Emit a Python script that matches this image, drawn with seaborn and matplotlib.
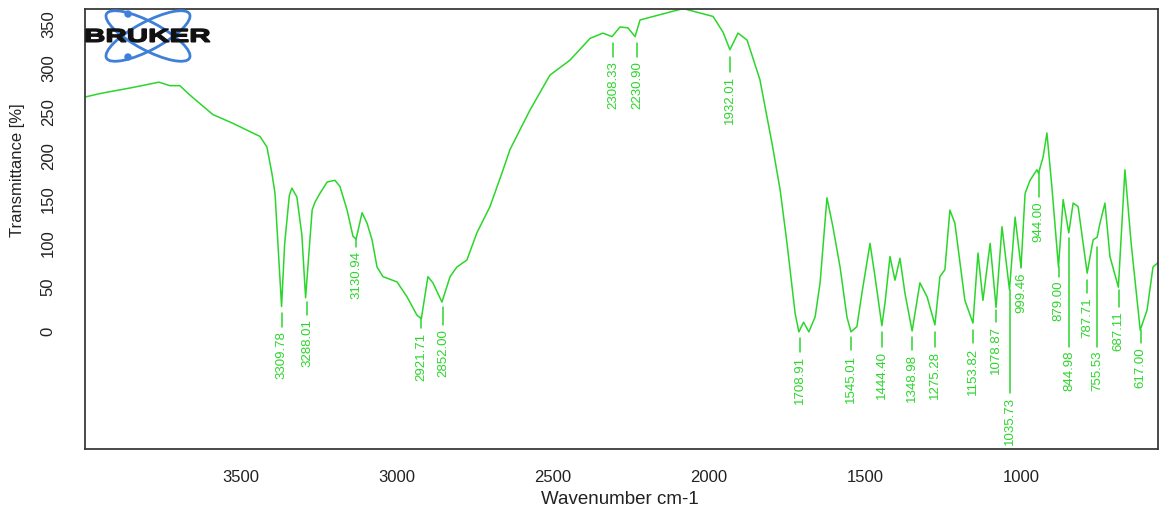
import numpy as np
import pandas as pd
import matplotlib
matplotlib.use("Agg")
import matplotlib.pyplot as plt
import seaborn as sns
from matplotlib.patches import Ellipse, PathPatch, Circle
from matplotlib.textpath import TextPath
from matplotlib.font_manager import FontProperties
from matplotlib.transforms import Affine2D, IdentityTransform

# ---------------- data ----------------
wavenumber = [4000, 3952, 3846, 3763, 3728, 3696, 3663, 3590, 3526, 3439, 3417, 3401, 3391,
              3380, 3370, 3360, 3345, 3337, 3321, 3305, 3293, 3282, 3272, 3263, 3247, 3224,
              3199, 3183, 3160, 3141, 3131, 3112, 3096, 3080, 3064, 3045, 3000, 2968, 2936,
              2922, 2901, 2885, 2856, 2830, 2808, 2776, 2744, 2702, 2660, 2638, 2574, 2510,
              2446, 2381, 2340, 2311, 2285, 2260, 2237, 2221, 2189, 2135, 2083, 2029, 1987,
              1955, 1933, 1907, 1878, 1837, 1798, 1772, 1750, 1724, 1712, 1697, 1680, 1660,
              1644, 1622, 1603, 1580, 1558, 1545, 1526, 1510, 1484, 1468, 1446, 1436, 1420,
              1404, 1388, 1372, 1349, 1340, 1324, 1301, 1276, 1260, 1244, 1228, 1212, 1180,
              1154, 1138, 1122, 1099, 1080, 1061, 1037, 1019, 1000, 987, 971, 949, 944, 929,
              917, 901, 880, 865, 847, 833, 817, 788, 769, 756, 747, 731, 715, 688, 667, 647,
              618, 596, 577, 561]
transmittance = [267, 271, 278, 284, 280, 280, 269, 247, 237, 222, 210, 180, 157,
                 90, 28, 100, 155, 163, 153, 110, 38, 90, 138, 147, 157, 170,
                 172, 165, 138, 108, 105, 135, 123, 104, 73, 62, 56, 39, 18,
                 14, 62, 55, 33, 62, 73, 81, 112, 142, 184, 207, 252, 292,
                 309, 334, 340, 336, 347, 346, 336, 355, 358, 363, 368, 363, 359,
                 341, 321, 340, 332, 287, 214, 161, 100, 20, -1, 10, -1, 16,
                 55, 152, 119, 73, 16, -1, 5, 43, 100, 62, 6, 32, 85,
                 58, 83, 43, 0, 20, 55, 39, 7, 62, 70, 138, 123, 35,
                 9, 89, 35, 100, 27, 119, 47, 130, 73, 157, 172, 184, 180, 199,
                 226, 164, 73, 150, 112, 146, 142, 66, 104, 107, 123, 146, 85, 50, 184, 100,
                 1, 24, 73, 78]

peak_labels = ["3309.78", "3288.01", "3130.94", "2921.71", "2852.00", "2308.33", "2230.90",
               "1932.01", "1708.91", "1545.01", "1444.40", "1348.98", "1275.28", "1153.82",
               "1078.87", "1035.73", "999.46", "944.00", "879.00", "844.98", "787.71",
               "755.53", "687.11", "617.00"]
peak_wn = [3370, 3288.01, 3130.94, 2921.71, 2852.00, 2308.33, 2230.90,
           1932.01, 1708.91, 1545.01, 1444.40, 1348.98, 1275.28, 1153.82,
           1078.87, 1035.73, 999.46, 944.00, 879.00, 844.98, 787.71,
           755.53, 687.11, 617.00]
# leader line extent (top, bottom) in transmittance units
leader_top = [20, 33, 106, 16, 27, 329, 329, 313, -8, -7, -1, -7, -1, 1,
              24, 47, 81, 181, 73, 106, 58, 96, 47, 1]
leader_bottom = [5, 18, 96, 3, 7, 313, 313, 296, -24, -22, -18, -22, -18, -14,
                 10, -71, 72, 153, 62, -18, 43, -18, 27, -14]

x_ticks = [3500, 3000, 2500, 2000, 1500, 1000]
y_ticks = [0, 50, 100, 150, 200, 250, 300, 350]

# ---------------- styling ----------------
sns.set_style("white")
plt.rcParams['font.family'] = ['Liberation Sans', 'DejaVu Sans']

GREEN = "#2bd62b"
FRAME = "#3a3a3a"

W, H = 1163, 512
fig = plt.figure(figsize=(W / 100, H / 100), dpi=100)
ax = fig.add_axes([85 / W, 1 - 449 / H, (1158 - 85) / W, (449 - 9) / H])

df = pd.DataFrame({"wavenumber": wavenumber, "transmittance": transmittance})
sns.lineplot(data=df, x="wavenumber", y="transmittance", color=GREEN, lw=1.1,
             sort=False, estimator=None, ax=ax)

ax.set_xlim(4000, 561)
ax.set_ylim(-134.7, 367.5)
ax.set_xticks(x_ticks)
ax.set_yticks(y_ticks)
ax.set_xticklabels([str(v) for v in x_ticks], fontsize=12)
ax.set_yticklabels([str(v) for v in y_ticks], fontsize=12, rotation=90, va="center")
ax.tick_params(axis="both", direction="out", length=7, width=1.1, color=FRAME,
               labelcolor="#222222")
ax.tick_params(axis="x", pad=8)
ax.tick_params(axis="y", pad=14)
for s in ax.spines.values():
    s.set_color(FRAME)
    s.set_linewidth(1.3)
ax.set_xlabel("")
ax.set_ylabel("")
fig.text(620 / W, 1 - 500 / H, "Wavenumber cm-1", ha="center", va="center",
         fontsize=13.5, color="#222222")
fig.text(18 / W, 1 - 170 / H, "Transmittance [%]", ha="center", va="center",
         rotation=90, fontsize=12, color="#222222")

# peak labels
for wn, lab, t, b in zip(peak_wn, peak_labels, leader_top, leader_bottom):
    ax.plot([wn, wn], [t, b], color=GREEN, lw=1.1)
    ax.annotate(lab, xy=(wn, b), xytext=(0, -3), textcoords="offset points",
                rotation=90, ha="center", va="top", fontsize=9.5, color=GREEN)

# Bruker logo (pixel coordinates)
tr = IdentityTransform()
cx, cy = 148, H - 36
for ang in (28, -28):
    e = Ellipse((cx, cy), 94, 28, angle=ang, fill=False, ec="#3d7fd9", lw=2.0,
                transform=tr)
    fig.patches.append(e)
for dy in (22, -21):
    c = Circle((128, cy + dy), 3, color="#3d7fd9", transform=tr)
    fig.patches.append(c)
tp = TextPath((0, 0), "BRUKER", size=18,
              prop=FontProperties(family="Liberation Sans", weight="bold"))
bb = tp.get_extents()
sx = (210 - 86) / bb.width
sy = 13 / bb.height
path_tr = Affine2D().translate(-bb.x0, -bb.y0).scale(sx, sy).translate(86, H - 42)
patch = PathPatch(path_tr.transform_path(tp), color="#111111", transform=tr)
fig.patches.append(patch)

fig.savefig("out.png", dpi=100)
